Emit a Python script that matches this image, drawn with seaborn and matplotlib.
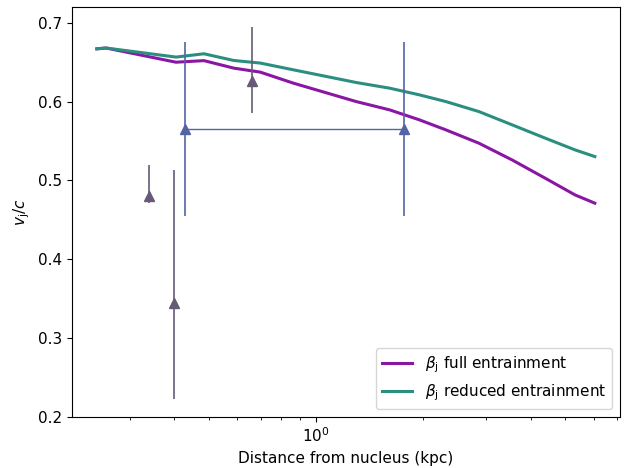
import numpy as np
import pandas as pd
import matplotlib
matplotlib.use("Agg")
import matplotlib.pyplot as plt
import seaborn as sns

# Model curves
dist = [0.243, 0.258, 0.405, 0.485, 0.588, 0.698, 0.863, 1.298, 1.607, 1.949,
        2.312, 2.862, 3.545, 4.391, 5.323, 6.051]
beta_full = [0.667, 0.668, 0.650, 0.652, 0.6425, 0.6374, 0.6235, 0.600, 0.5896,
             0.5769, 0.5642, 0.5473, 0.5261, 0.5029, 0.4817, 0.4712]
beta_reduced = [0.667, 0.668, 0.6565, 0.6607, 0.6522, 0.6489, 0.6404, 0.6242,
                0.6171, 0.6086, 0.6001, 0.5874, 0.5706, 0.5537, 0.5388, 0.5303]

# Observed points (grey)
obs_x = [0.341, 0.400, 0.662]
obs_y = [0.480, 0.344, 0.626]
obs_err_lo = [0.009, 0.121, 0.040]
obs_err_hi = [0.040, 0.169, 0.069]

# Observed points (blue, connected)
obs2_x = [0.429, 1.770]
obs2_y = [0.565, 0.565]
obs2_err = [0.110, 0.110]

label_full = r"$\beta_\mathrm{j}$ full entrainment"
label_red = r"$\beta_\mathrm{j}$ reduced entrainment"

df = pd.DataFrame({
    "dist": dist + dist,
    "beta": beta_full + beta_reduced,
    "model": [label_full] * len(dist) + [label_red] * len(dist),
})

plt.rcParams["font.size"] = 11

fig, ax = plt.subplots(figsize=(6.26, 4.68), dpi=100)
fig.subplots_adjust(left=0.115, right=0.990, top=0.985, bottom=0.109)

sns.lineplot(data=df, x="dist", y="beta", hue="model",
             palette={label_full: "#8a16a4", label_red: "#2a8f80"},
             linewidth=2.2, ax=ax, sort=False)

ax.errorbar(obs_x, obs_y, yerr=[obs_err_lo, obs_err_hi], fmt="^",
            color="#665a76", ms=6.5, elinewidth=1.2, capsize=0, label="_nolegend_")
ax.errorbar(obs2_x, obs2_y, yerr=obs2_err, fmt="^-",
            color="#5364a6", ms=6.5, lw=1.0, elinewidth=1.2, capsize=0,
            label="_nolegend_")

ax.set_xscale("log")
ax.set_ylim(0.2, 0.72)
ax.set_xlabel("Distance from nucleus (kpc)")
ax.set_ylabel(r"$v_\mathrm{j}/c$")

handles, labels = ax.get_legend_handles_labels()
keep = [(h, l) for h, l in zip(handles, labels) if "entrainment" in l]
ax.legend([h for h, l in keep], [l for h, l in keep], loc="lower right",
          fontsize=11)

fig.savefig("out.png", dpi=100)
